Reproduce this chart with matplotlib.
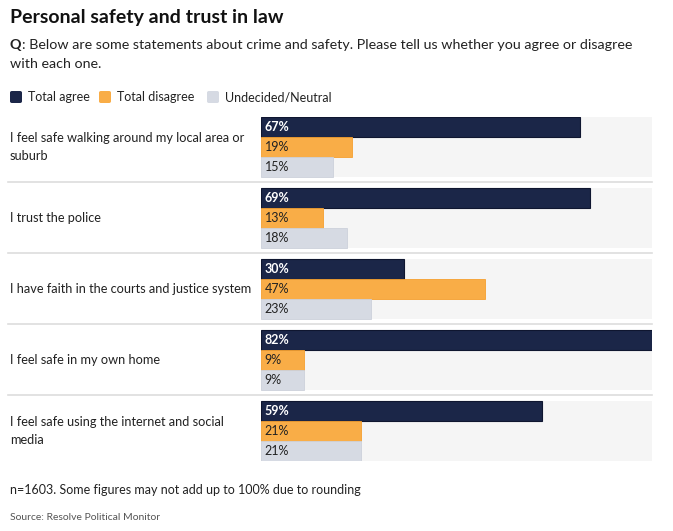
import matplotlib.pyplot as plt
from matplotlib.patches import FancyBboxPatch
import numpy as np

plt.rcParams['font.family'] = ['Lato', 'DejaVu Sans']

# data
statements = ['I feel safe walking around my local area or\nsuburb',
              'I trust the police',
              'I have faith in the courts and justice system',
              'I feel safe in my own home',
              'I feel safe using the internet and social\nmedia']
agree = [67, 69, 30, 82, 59]
disagree = [19, 13, 47, 9, 21]
neutral = [15, 18, 23, 9, 21]
series_names = ['Total agree', 'Total disagree', 'Undecided/Neutral']

navy = '#1b2648'
orange = '#f9ad47'
grey = '#d6dae3'
text_col = '#222222'

W, H = 673, 531
fig = plt.figure(figsize=(W / 100, H / 100), dpi=100)

def fx(px):
    return px / W

def fy(py):
    return 1 - py / H

# axes covers bar area
ax = fig.add_axes([fx(261), fy(461), fx(652) - fx(261), fy(117) - fy(461)])
gap = 3.55
xmax = max(agree)
ax.set_xlim(0, xmax)
ax.set_ylim(4 * gap + 3, 0)
ax.axis('off')

tops = np.arange(len(statements)) * gap
ax.barh(tops + 1.5, [xmax] * len(statements), height=3, color='#f5f5f5', zorder=0)
ax.barh(tops + 0.5, agree, height=1, color=navy, edgecolor='#0f1630', linewidth=0.8, zorder=2)
ax.barh(tops + 1.5, disagree, height=1, color=orange, edgecolor='#f5a030', linewidth=0.6, zorder=2)
ax.barh(tops + 2.5, neutral, height=1, color=grey, edgecolor='#cdd1db', linewidth=0.6, zorder=2)

lab_x = -251 / 391 * xmax
line_x = -253 / 391 * xmax
for i, t in enumerate(tops):
    ax.text(0.8, t + 0.52, f'{agree[i]}%', color='white', fontweight='bold',
            fontsize=9, va='center', ha='left', zorder=3)
    ax.text(0.8, t + 1.52, f'{disagree[i]}%', color=text_col,
            fontsize=9, va='center', ha='left', zorder=3)
    ax.text(0.8, t + 2.52, f'{neutral[i]}%', color=text_col,
            fontsize=9, va='center', ha='left', zorder=3)
    # statement label
    ax.text(lab_x, t + 1.5, statements[i], fontsize=9.2, color=text_col,
            va='center', ha='left', linespacing=1.6, clip_on=False)
    if i > 0:
        ax.plot([line_x, xmax], [t - 0.28, t - 0.28], color='#dddddd',
                linewidth=1.2, clip_on=False, zorder=1)

# title and subtitle
fig.text(fx(10), fy(18), 'Personal safety and trust in law', fontsize=14,
         fontweight='bold', color='#111111', va='center', ha='left')
q = fig.text(fx(10), fy(45), 'Q', fontsize=10.3, fontweight='bold', color=text_col,
             va='center', ha='left')
r = fig.canvas.get_renderer()
qw = q.get_window_extent(renderer=r).width
fig.text(fx(10 + qw), fy(45),
         ': Below are some statements about crime and safety. Please tell us whether you agree or disagree',
         fontsize=10.3, color=text_col, va='center', ha='left')
fig.text(fx(10), fy(64), 'with each one.', fontsize=10.3, color=text_col,
         va='center', ha='left')

# legend
leg_x = [10, 99, 207]
for x0, name, c in zip(leg_x, series_names, [navy, orange, grey]):
    fig.patches.append(FancyBboxPatch((fx(x0), fy(103)), fx(12), fy(91) - fy(103),
                                      boxstyle='round,pad=0,rounding_size=0.003',
                                      transform=fig.transFigure, facecolor=c,
                                      edgecolor='none'))
    fig.text(fx(x0 + 18), fy(97), name, fontsize=9, color=text_col,
             va='center', ha='left')

# footer
fig.text(fx(10), fy(490), 'n=1603. Some figures may not add up to 100% due to rounding',
         fontsize=9, color=text_col, va='center', ha='left')
fig.text(fx(10), fy(517), 'Source: Resolve Political Monitor', fontsize=7.5,
         color='#555555', va='center', ha='left')

fig.savefig('out.png', dpi=100)
